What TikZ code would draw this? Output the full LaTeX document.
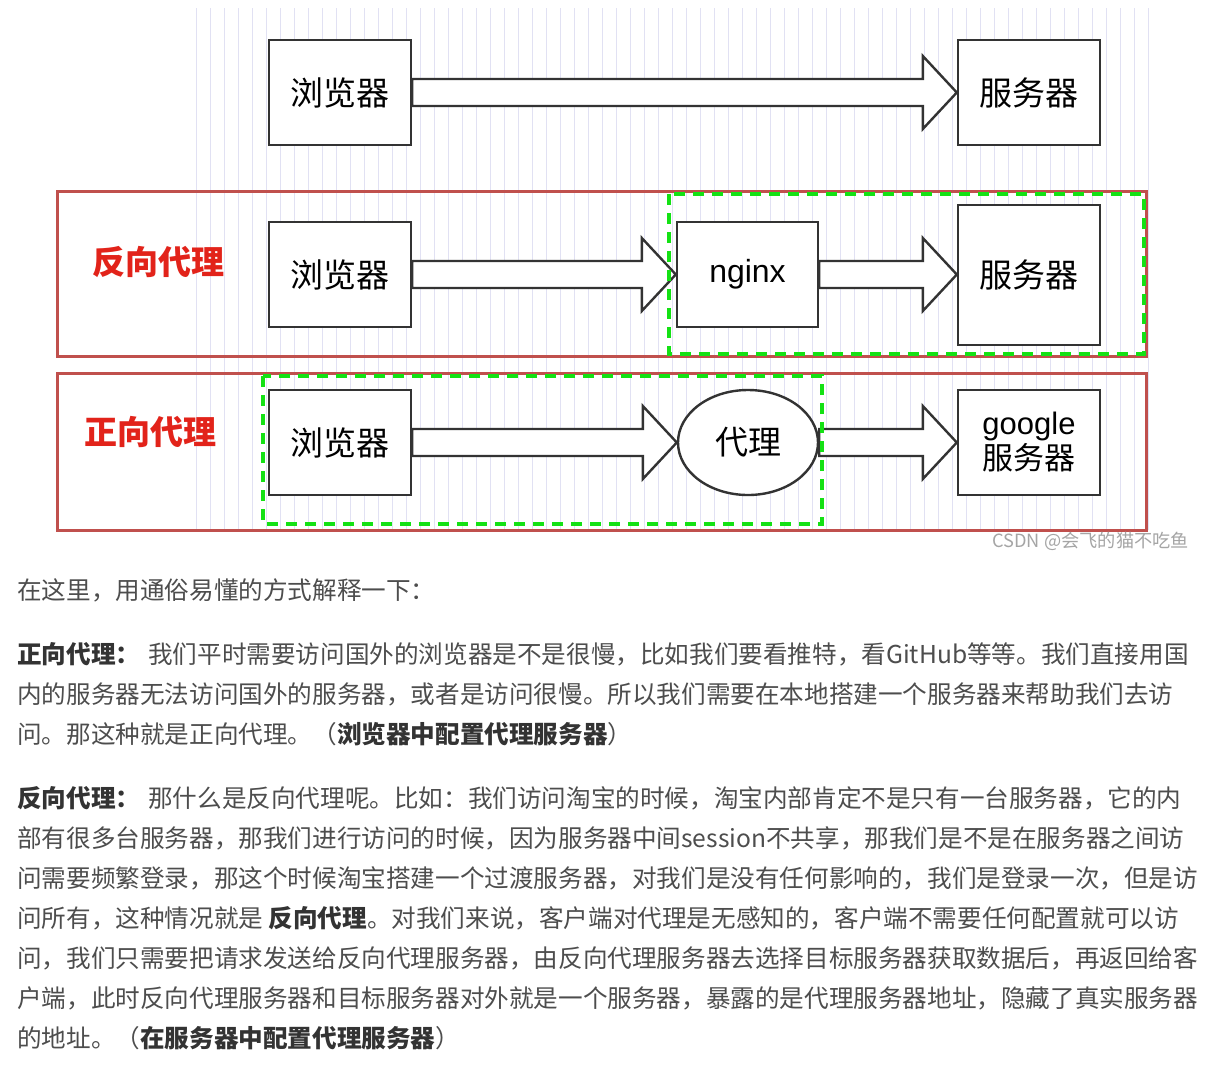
\documentclass[tikz,border=0pt]{standalone}
\usepackage{fontspec}
\setmainfont{Noto Sans CJK SC}
\newfontfamily\latfont{Liberation Sans}
\usetikzlibrary{shapes.geometric,calc}
\definecolor{gridc}{RGB}{225,225,243}
\definecolor{boxc}{RGB}{51,51,51}
\definecolor{framec}{RGB}{192,80,77}
\definecolor{labelc}{RGB}{226,35,26}
\definecolor{dashc}{RGB}{20,225,20}
\definecolor{textc}{RGB}{77,77,77}
\definecolor{boldc}{RGB}{51,51,51}
\definecolor{wmc}{RGB}{165,165,165}
\tikzset{
  boxnode/.style={draw=boxc, line width=2.4, fill=white, minimum width=142, minimum height=105,
    inner sep=0, text=black, font=\fontsize{33}{36}\selectfont},
  ellnode/.style={ellipse, draw=boxc, line width=2.4, fill=white, minimum width=140, minimum height=105,
    inner sep=0, text=black, font=\fontsize{33}{36}\selectfont},
  barrow/.style={draw=boxc, line width=2.4, fill=white, line join=miter},
  redframe/.style={draw=framec, line width=3},
  greendash/.style={draw=dashc, line width=4, dash pattern=on 11pt off 8pt},
  redlabel/.style={text=labelc, font=\fontsize{33}{36}\selectfont\bfseries, inner sep=0},
  para/.style={anchor=base west, inner sep=0, text=textc, font=\fontsize{24.6}{30}\selectfont},
}
\newcommand\blockarrow[2]{%
  \draw[barrow] let \p1=(#1.east), \p2=(#2.west) in
    (\x1,\y1+13.5pt) -- (\x2-34pt,\y1+13.5pt) -- (\x2-34pt,\y1+36.5pt) -- (\x2,\y1)
    -- (\x2-34pt,\y1-36.5pt) -- (\x2-34pt,\y1-13.5pt) -- (\x1,\y1-13.5pt) -- cycle;}
\newcommand\bt[1]{{\bfseries\color{boldc}#1}}
\begin{document}
\begin{tikzpicture}[x=1pt,y=-1pt]
\useasboundingbox[fill=white] (0,0) rectangle (1209,1077);
% grid background
\draw[gridc, line width=1] (190,8) grid[step=14] (1148,530);
% red frames
\draw[redframe] (57,191) rectangle (1146,356);
\draw[redframe] (57,373) rectangle (1146,530);
\node[redlabel] (lrev) at (158,262) {反向代理};
\node[redlabel] (lfwd) at (150,432) {正向代理};
% row 1
\node[boxnode] (b1) at (340,92.5) {浏览器};
\node[boxnode] (s1) at (1029,92.5) {服务器};
% row 2
\node[boxnode] (b2) at (340,274.5) {浏览器};
\node[boxnode, minimum width=141, font=\fontsize{32}{36}\latfont] (n2) at (747.5,274.5) {nginx};
\node[boxnode, minimum height=140] (s2) at (1029,275) {服务器};
% row 3
\node[boxnode] (b3) at (340,442.5) {浏览器};
\node[ellnode] (p3) at (748,442.5) {代理};
\node[boxnode, align=center, font=\fontsize{31}{35}\selectfont] (g3) at (1029,442.5) {{\latfont google}\\服务器};
% arrows
\blockarrow{b1}{s1}
\blockarrow{b2}{n2}
\blockarrow{n2}{s2}
\blockarrow{b3}{p3}
\blockarrow{p3}{g3}
% green dashed groups
\draw[greendash] (669,194) rectangle (1144,354);
\draw[greendash] (263,376) rectangle (822,524);
% watermark
\node[anchor=east, inner sep=0, text=wmc, font=\fontsize{18.2}{20}\selectfont] (wm) at (1189,541) {CSDN @会飞的猫不吃鱼};
% text
\node[para] (t1) at (17,599) {在这里，用通俗易懂的方式解释一下：};
\node[para] (t2) at (17,663) {\bt{正向代理：}\hspace{8pt}我们平时需要访问国外的浏览器是不是很慢，比如我们要看推特，看GitHub等等。我们直接用国};
\node[para] (t3) at (17,703) {内的服务器无法访问国外的服务器，或者是访问很慢。所以我们需要在本地搭建一个服务器来帮助我们去访};
\node[para] (t4) at (17,743) {问。那这种就是正向代理。（\bt{浏览器中配置代理服务器}）};
\node[para] (t5) at (17,807) {\bt{反向代理：}\hspace{8pt}那什么是反向代理呢。比如：我们访问淘宝的时候，淘宝内部肯定不是只有一台服务器，它的内};
\node[para] (t6) at (17,847) {部有很多台服务器，那我们进行访问的时候，因为服务器中间session不共享，那我们是不是在服务器之间访};
\node[para] (t7) at (17,887) {问需要频繁登录，那这个时候淘宝搭建一个过渡服务器，对我们是没有任何影响的，我们是登录一次，但是访};
\node[para] (t8) at (17,927) {问所有，这种情况就是 \bt{反向代理}。对我们来说，客户端对代理是无感知的，客户端不需要任何配置就可以访};
\node[para] (t9) at (17,967) {问，我们只需要把请求发送给反向代理服务器，由反向代理服务器去选择目标服务器获取数据后，再返回给客};
\node[para] (t10) at (17,1007) {户端，此时反向代理服务器和目标服务器对外就是一个服务器，暴露的是代理服务器地址，隐藏了真实服务器};
\node[para] (t11) at (17,1047) {的地址。（\bt{在服务器中配置代理服务器}）};
\end{tikzpicture}
\end{document}
